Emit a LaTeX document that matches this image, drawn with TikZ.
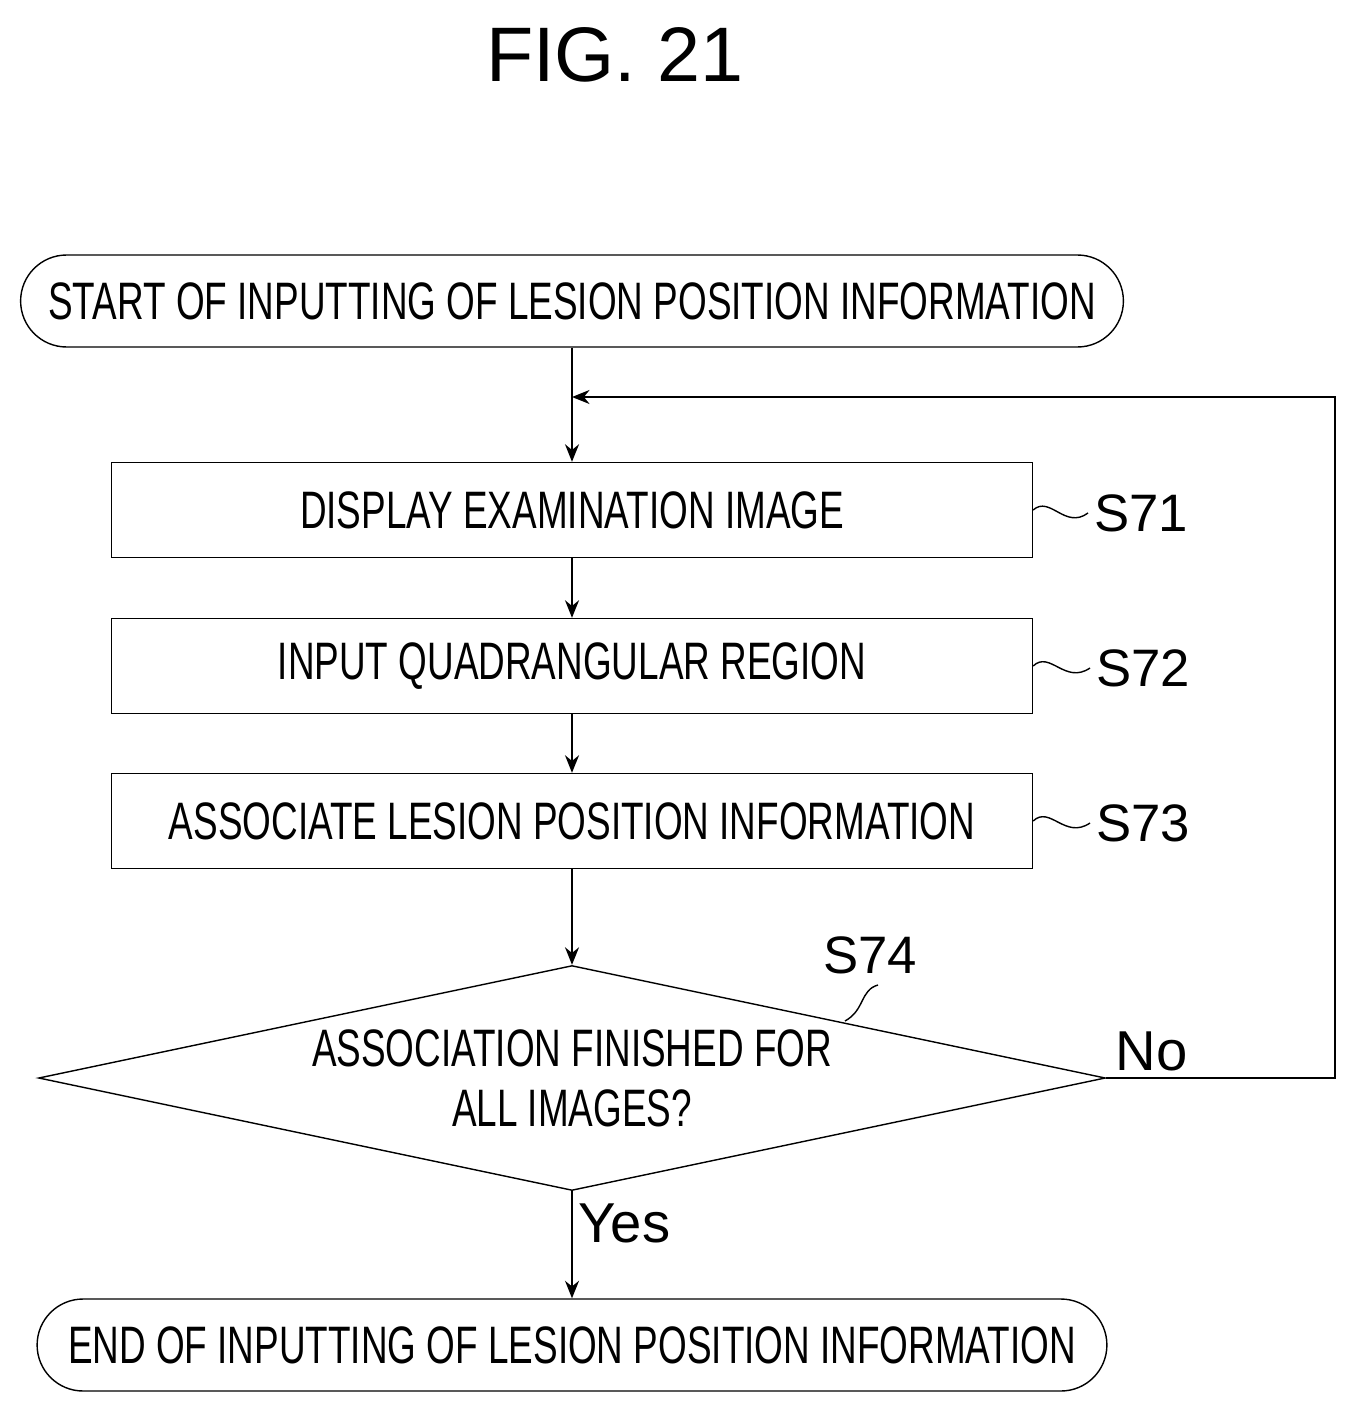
\documentclass[tikz,border=0pt]{standalone}
\usepackage{fontspec}
\setmainfont{Liberation Sans}
\usetikzlibrary{shapes.geometric,arrows.meta}
\newcommand{\cond}[1]{\scalebox{0.7}[1]{#1}}
\tikzset{
  procbox/.style={draw, thick, rectangle, minimum width=18.42cm, minimum height=1.9cm, font=\fontsize{30}{34}\selectfont},
  term/.style={draw, thick, rounded corners=0.92cm, minimum height=1.84cm, font=\fontsize{30}{34}\selectfont},
  flow/.style={thick, -{Stealth[length=10pt,width=8pt]}},
  steplbl/.style={font=\fontsize{30}{34}\selectfont, anchor=west}
}
\begin{document}
\begin{tikzpicture}[x=0.02cm, y=-0.02cm]
  \useasboundingbox (0,0) rectangle (1357,1416);
  \node[font=\fontsize{44}{50}\selectfont] at (615,55) (title) {FIG. 21};

  \node[term, minimum width=22.06cm] at (572,301) (start) {\cond{START OF INPUTTING OF LESION POSITION INFORMATION}};
  \node[procbox] at (572,510) (s71) {\cond{DISPLAY EXAMINATION IMAGE}};
  \node[procbox] at (572,666) (s72) {\cond{INPUT QUADRANGULAR REGION}};
  \node[procbox] at (572,821) (s73) {\cond{ASSOCIATE LESION POSITION INFORMATION}};
  \node[draw, thick, diamond, aspect=4.74, minimum width=21.34cm, minimum height=4.5cm, inner sep=0pt, font=\fontsize{30}{30}\selectfont, align=center] at (572,1078) (s74)
    {\cond{ASSOCIATION FINISHED FOR}\\[4pt]\cond{ALL IMAGES?}};
  \node[term, minimum width=21.4cm] at (572,1345) (end) {\cond{END OF INPUTTING OF LESION POSITION INFORMATION}};

  % step labels
  \node[steplbl] at (1088,513) (l71) {S71};
  \node[steplbl] at (1090,668) (l72) {S72};
  \node[steplbl] at (1090,823) (l73) {S73};
  \node[font=\fontsize{30}{34}\selectfont] at (870,955) (l74) {S74};
  \draw[thick] (s71.east) .. controls (1050,495) and (1065,530) .. (l71.west);
  \draw[thick] (s72.east) .. controls (1050,650) and (1065,685) .. (l72.west);
  \draw[thick] (s73.east) .. controls (1050,805) and (1065,840) .. (l73.west);
  \draw[thick] (845,1021) .. controls (865,1010) and (860,990) .. (878,985);

  \coordinate (join) at (572,397);
  \draw[thick] (start.south) -- (join);
  \draw[flow] (join) -- (s71.north);
  \draw[flow] (s71.south) -- (s72.north);
  \draw[flow] (s72.south) -- (s73.north);
  \draw[flow] (s73.south) -- (s74.north);
  \draw[flow] (s74.south) -- node[pos=0.3, right, font=\fontsize{32}{34}\selectfont] {Yes} (end.north);
  \draw[flow] (s74.east) -- node[pos=0.2, above, font=\fontsize{32}{34}\selectfont] {No} (1335,1078) |- (join);
\end{tikzpicture}
\end{document}
